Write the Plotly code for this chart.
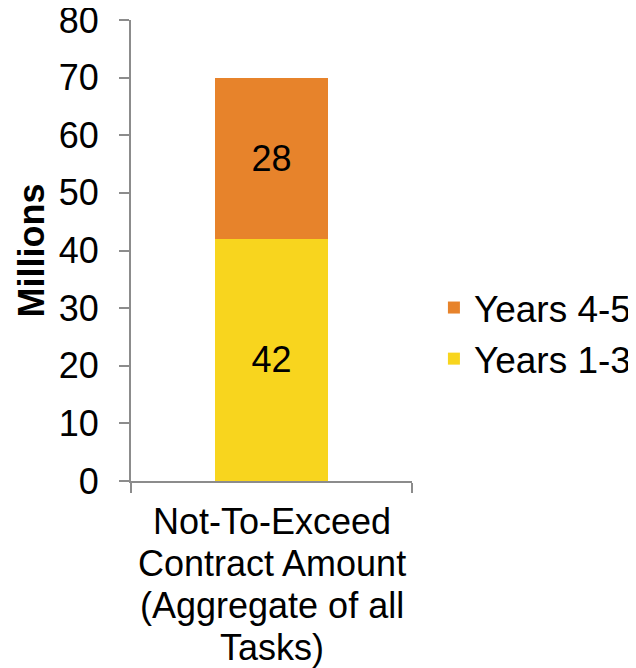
import plotly.graph_objects as go

categories = ["Not-To-Exceed Contract Amount (Aggregate of all Tasks)"]
category_label_lines = ["Not-To-Exceed", "Contract Amount", "(Aggregate of all", "Tasks)"]
years_1_3 = [42]
years_4_5 = [28]
y_ticks = [0, 10, 20, 30, 40, 50, 60, 70, 80]

FONT = "Liberation Sans, Arial, sans-serif"
AXIS_COLOR = "#8c8c8c"
FS = 36

fig = go.Figure()
fig.add_trace(go.Bar(
    x=categories, y=years_1_3, name="Years 1-3",
    marker=dict(color="#F8D51E", line=dict(width=0)),
    text=[str(v) for v in years_1_3], textposition="inside",
    insidetextanchor="middle", textangle=0,
    textfont=dict(color="black", size=FS, family=FONT),
))
fig.add_trace(go.Bar(
    x=categories, y=years_4_5, name="Years 4-5",
    marker=dict(color="#E7832B", line=dict(width=0)),
    text=[str(v) for v in years_4_5], textposition="inside",
    insidetextanchor="middle", textangle=0,
    textfont=dict(color="black", size=FS, family=FONT),
))

# category label, drawn line by line at the category position (tight line spacing)
for i, line in enumerate(category_label_lines):
    fig.add_annotation(
        x=categories[0], xref="x", y=0, yref="paper",
        text=line, showarrow=False, xanchor="center", yanchor="middle",
        yshift=-(40 + 42 * i),
        font=dict(size=FS, family=FONT, color="black"),
    )

fig.update_layout(
    width=628, height=660,
    barmode="stack", bargap=0.6,
    paper_bgcolor="white", plot_bgcolor="white",
    margin=dict(l=123, r=224, t=12, b=187, autoexpand=False),
    font=dict(family=FONT, color="black", size=FS),
    uniformtext=dict(mode=False),
    legend=dict(
        x=1.078, y=0.32, xanchor="left", yanchor="middle",
        font=dict(size=37, family=FONT, color="black"),
        traceorder="reversed", bgcolor="rgba(0,0,0,0)",
        itemwidth=30,
    ),
    xaxis=dict(
        automargin=False,
        showline=True, linecolor=AXIS_COLOR, linewidth=2,
        ticks="outside", tickson="boundaries", ticklen=10,
        tickcolor=AXIS_COLOR, tickwidth=2,
        showticklabels=False,
        showgrid=False,
    ),
    yaxis=dict(
        automargin=False,
        range=[0, 80], tickvals=y_ticks,
        showline=True, linecolor=AXIS_COLOR, linewidth=2,
        ticks="outside", ticklen=10, tickcolor=AXIS_COLOR, tickwidth=2,
        ticklabelstandoff=13, ticklabeloverflow="allow",
        tickfont=dict(size=FS, family=FONT, color="black"),
        showgrid=False, zeroline=False,
        title=dict(text="<b>Millions</b>", font=dict(size=FS, family=FONT, color="black"), standoff=3),
    ),
)

fig.write_html("out.html")
